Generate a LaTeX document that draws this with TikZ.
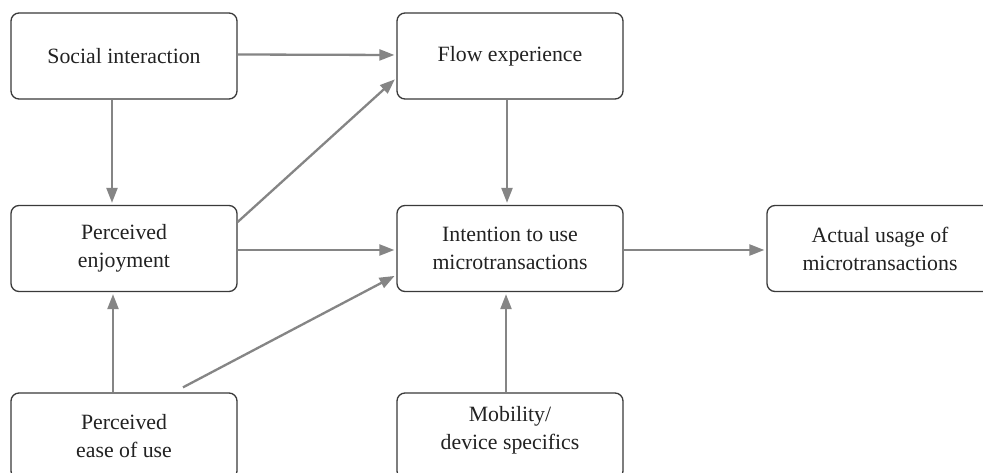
\documentclass[tikz,border=0pt]{standalone}
\usepackage{fontspec}
\setmainfont{Liberation Serif}
\usetikzlibrary{arrows.meta}
\definecolor{arrowgray}{HTML}{858585}
\definecolor{boxline}{HTML}{3A3A3A}
\definecolor{txt}{HTML}{222222}
\tikzset{
  boxnode/.style={draw=boxline, line width=1.3pt, rounded corners=8pt,
    minimum width=226pt, minimum height=86pt, inner sep=0pt,
    align=center, text=txt, font=\fontsize{21.8}{28}\selectfont},
  boxtext/.style={text=txt, align=center, font=\fontsize{21.8}{28}\selectfont},
  conn/.style={draw=arrowgray, line width=2.3pt,
    -{Triangle[length=15pt,width=11pt]}, shorten >=2pt}
}
\begin{document}
\begin{tikzpicture}[x=1pt,y=-1pt]
\useasboundingbox (0,0) rectangle (983,473);
\clip (0,0) rectangle (983,473);
\fill[white] (0,0) rectangle (983,473);
\node[boxnode] (si) at (124,56) {Social interaction};
\node[boxnode] (fe) at (510,56) {Flow experience};
\node[boxnode] (pe) at (124,248.5) {Perceived\\enjoyment};
\node[boxnode] (iu) at (510,248.5) {Intention to use\\microtransactions};
\node[boxnode] (au) at (880,248.5) {Actual usage of\\microtransactions};
\node[boxnode] (pu) at (124,436) {};
\node[boxtext] (put) at (124,436) {Perceived\\ease of use};
\node[boxnode] (md) at (510,436) {};
\node[boxtext] (mdt) at (510,430) {Mobility/\\device specifics};
\coordinate (pustart) at ([xshift=59pt,yshift=5pt]pu.north);
\draw[conn] ([yshift=1.5pt]si.east) -- ([yshift=1pt]fe.west);
\draw[conn] ([xshift=-12pt]si.south) -- ([xshift=-12pt]pe.north);
\draw[conn] ([xshift=-3pt]fe.south) -- ([xshift=-3pt]iu.north);
\draw[conn] ([yshift=26.5pt]pe.east) -- ([yshift=-22pt]fe.west);
\draw[conn] ([yshift=-1.5pt]pe.east) -- ([yshift=-1.5pt]iu.west);
\draw[conn] (pustart) -- ([yshift=-26.5pt]iu.west);
\draw[conn] ([xshift=-11pt]pu.north) -- ([xshift=-11pt]pe.south);
\draw[conn] ([xshift=-4pt]md.north) -- ([xshift=-4pt]iu.south);
\draw[conn] ([yshift=-1.5pt]iu.east) -- ([yshift=-1.5pt]au.west);
\end{tikzpicture}
\end{document}
